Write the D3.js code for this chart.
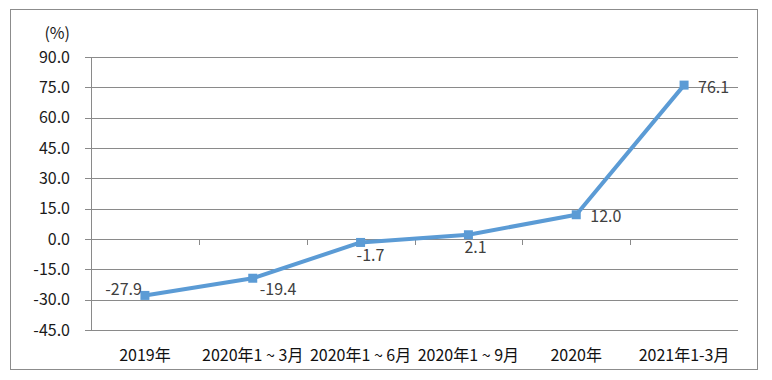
<!DOCTYPE html>
<html><head><meta charset="utf-8">
<script src="https://cdn.jsdelivr.net/npm/d3@7"></script>
<style>body{margin:0;background:#fff}svg{display:block}</style>
</head><body>
<svg id="c" width="772" height="380"></svg>
<script>
const categories = ["2019年","2020年1 ~ 3月","2020年1 ~ 6月","2020年1 ~ 9月","2020年","2021年1-3月"];
const values = [-27.9,-19.4,-1.7,2.1,12.0,76.1];
const yTicks = [-45,-30,-15,0,15,30,45,60,75,90];
const labelPos = ["left","rightBelow","below","below","right","right"];

const svg = d3.select("#c");
const font = "'Noto Sans CJK SC','Noto Sans',sans-serif";
const fmt = v => v.toFixed(1);
svg.append("rect").attr("x",10.5).attr("y",9.5).attr("width",747).attr("height",360)
  .attr("fill","#fff").attr("stroke","#8c8c8c").attr("stroke-width",1);

const x = d3.scaleBand().domain(categories).range([91,738]);
const y = d3.scaleLinear().domain([-45,90]).range([330,57]);

// gridlines
svg.append("g").selectAll("line").data(yTicks).join("line")
  .attr("x1",85).attr("x2",738)
  .attr("y1",d=>Math.round(y(d))+0.5).attr("y2",d=>Math.round(y(d))+0.5)
  .attr("stroke","#8a8a8a").attr("stroke-width",1);
// y axis line
svg.append("line").attr("x1",91.5).attr("x2",91.5).attr("y1",y(90)).attr("y2",y(-45))
  .attr("stroke","#8a8a8a");
// category ticks on zero line
const bounds = categories.map(c=>x(c)).slice(1);
svg.append("g").selectAll("line").data(bounds).join("line")
  .attr("x1",d=>Math.round(d)+0.5).attr("x2",d=>Math.round(d)+0.5)
  .attr("y1",Math.round(y(0))).attr("y2",Math.round(y(0))+6)
  .attr("stroke","#8a8a8a");

// y tick labels
svg.append("g").selectAll("text").data(yTicks).join("text")
  .attr("x",70).attr("y",d=>y(d)).attr("dy","0.35em").attr("text-anchor","end")
  .attr("font-family",font).attr("font-size",16).attr("fill","#1a1a1a")
  .text(d=>fmt(d));
svg.append("text").attr("x",70).attr("y",33).attr("dy","0.35em").attr("text-anchor","end")
  .attr("font-family",font).attr("font-size",16).attr("fill","#1a1a1a").text("(%)");

// x labels
svg.append("g").selectAll("text").data(categories).join("text")
  .attr("x",d=>x(d)+x.bandwidth()/2).attr("y",355).attr("dy","0.35em").attr("text-anchor","middle")
  .attr("font-family",font).attr("font-size",16).attr("fill","#111")
  .text(d=>d);

const cx = i => x(categories[i])+x.bandwidth()/2;
const line = d3.line().x((d,i)=>cx(i)).y(d=>y(d));
svg.append("path").datum(values).attr("d",line).attr("fill","none")
  .attr("stroke","#5b9bd5").attr("stroke-width",4).attr("stroke-linejoin","round");
svg.append("g").selectAll("rect").data(values).join("rect")
  .attr("x",(d,i)=>cx(i)-4.5).attr("y",d=>y(d)-4.5).attr("width",9).attr("height",9)
  .attr("fill","#5b9bd5");

// data labels
svg.append("g").selectAll("text").data(values).join("text")
  .attr("x",(d,i)=>{const p=labelPos[i];
    if(p==="left") return cx(i)-3;
    if(p==="rightBelow") return cx(i)+7;
    if(p==="below") return cx(i)-4;
    return cx(i)+14;})
  .attr("y",(d,i)=>{const p=labelPos[i];
    if(p==="left") return y(d)-6;
    if(p==="rightBelow") return y(d)+11;
    if(p==="below") return y(d)+13;
    return y(d)+2;})
  .attr("dy","0.35em")
  .attr("text-anchor",(d,i)=>labelPos[i]==="left"?"end":"start")
  .attr("font-family",font).attr("font-size",16).attr("fill","#404040")
  .text(d=>fmt(d));
</script>
</body></html>
